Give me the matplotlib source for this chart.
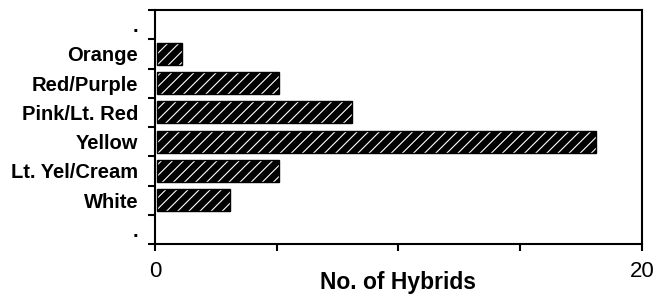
import matplotlib.pyplot as plt

plt.rcParams['font.family'] = ['Liberation Sans', 'DejaVu Sans']
plt.rcParams['hatch.linewidth'] = 0.8

slot_labels = ['.', 'Orange', 'Red/Purple', 'Pink/Lt. Red', 'Yellow',
               'Lt. Yel/Cream', 'White', '.']
categories = ['Orange', 'Red/Purple', 'Pink/Lt. Red', 'Yellow',
              'Lt. Yel/Cream', 'White']
hybrids = [1, 5, 8, 18, 5, 3]

fig = plt.figure(figsize=(6.55, 2.94), dpi=100)
ax = fig.add_axes([0.2366, 0.170, 0.7434, 0.796])

ypos = [slot_labels.index(c) for c in categories]
ax.barh(ypos, hybrids, height=0.75, left=0.1, color='black',
        edgecolor='white', hatch='///', linewidth=0)
ax.barh(ypos, hybrids, height=0.75, left=0.1, fill=False,
        edgecolor='black', linewidth=1.0)

ax.set_xlim(0, 20)
ax.set_ylim(len(slot_labels) - 0.5, -0.5)

ax.set_xticks([0, 5, 10, 15, 20])
ax.set_xticklabels(['0', '', '', '', '20'], fontsize=16)
ax.set_yticks([i - 0.5 for i in range(len(slot_labels) + 1)])
ax.set_yticklabels([])
ax.set_yticks(range(len(slot_labels)), minor=True)
ax.set_yticklabels(slot_labels, minor=True, fontsize=14.5, fontweight='bold')
ax.tick_params(axis='y', which='minor', length=0, pad=12)
ax.tick_params(axis='both', which='major', length=5, width=1.5, direction='out')
ax.tick_params(axis='x', pad=7)

for s in ax.spines.values():
    s.set_linewidth(1.5)

ax.set_xlabel('No. of Hybrids', fontsize=16.5, fontweight='bold', labelpad=-8)

fig.savefig('out.png', dpi=100)
